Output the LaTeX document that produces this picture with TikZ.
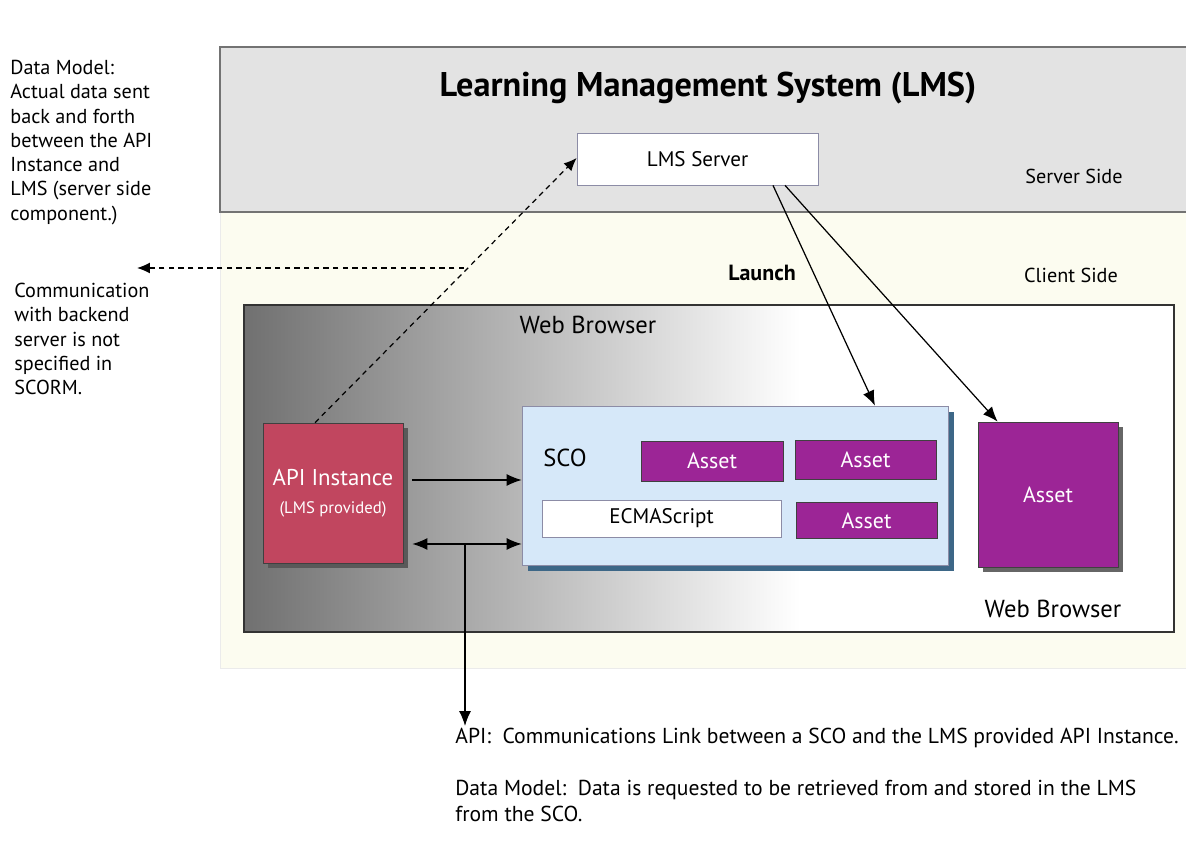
\documentclass[tikz,border=0pt]{standalone}
\usepackage{fontspec}
\setmainfont{PT Sans}
\usetikzlibrary{arrows.meta,shadows}

\definecolor{serverbg}{HTML}{E3E3E3}
\definecolor{clientbg}{HTML}{FCFCF0}
\definecolor{apired}{HTML}{C1465F}
\definecolor{assetpurple}{HTML}{9C2596}
\definecolor{scoblue}{HTML}{D6E8F9}
\definecolor{scoshadow}{HTML}{3D6787}
\definecolor{boxline}{HTML}{8C8CA6}

\tikzset{
    txt/.style={font=\fontsize{11.5}{13.8}\selectfont, inner sep=0pt},
    bottomtxt/.style={font=\fontsize{12.3}{14.6}\selectfont, inner sep=0pt},
    asset/.style={draw=black!75, fill=assetpurple, text=white, inner sep=0pt,
        font=\fontsize{12.5}{15}\selectfont},
    plainbox/.style={draw=boxline, fill=white, inner sep=0pt,
        font=\fontsize{12}{14}\selectfont},
    arr/.style={line width=0.7pt, -{Latex[length=3mm,width=2.4mm]}},
    dbl/.style={line width=0.7pt, {Latex[length=3mm,width=2.4mm]}-{Latex[length=3mm,width=2.4mm]}},
    dsh/.style={line width=0.7pt, dash pattern=on 3pt off 2.5pt, -{Latex[length=2.6mm,width=2.2mm]}}
}

\begin{document}
\begin{tikzpicture}[x=0.02cm,y=-0.02cm]
    \useasboundingbox (0,0) rectangle (1186,857);
    \fill[white] (0,0) rectangle (1186,857);

    % server side and client side bands
    \fill[clientbg] (220,212) rectangle (1186,668);
    \draw[black!8] (220,212) -- (220,668) -- (1186,668);
    \fill[serverbg] (220,47) rectangle (1186,212);
    \draw[black!55, line width=0.7pt] (1186,47) -- (220,47) -- (220,212) -- (1186,212);

    % web browser
    \fill[white] (244,305) rectangle (1174,632);
    \shade[left color=black!56, right color=white] (244,305) rectangle (800,632);
    \draw[black!80, line width=0.8pt] (244,305) rectangle (1174,632);

    \node[font=\fontsize{19.5}{22}\selectfont\bfseries] (title) at (708,88) {Learning Management System (LMS)};
    \node[txt] (serverside) at (1074,176) {Server Side};
    \node[txt] (clientside) at (1071,275) {Client Side};
    \node[txt, font=\fontsize{12.5}{15}\selectfont\bfseries] (launch) at (762,273) {Launch};
    \node[font=\fontsize{14}{16}\selectfont, inner sep=0pt] (browsertop) at (588,325) {Web Browser};
    \node[font=\fontsize{14}{16}\selectfont, inner sep=0pt] (browserbottom) at (1053,609) {Web Browser};

    \node[plainbox, minimum width=4.82cm, minimum height=1.04cm] (server) at (697.5,159) {LMS Server};

    \node[draw=black!75, fill=apired, text=white, inner sep=0pt, align=center,
        minimum width=2.8cm, minimum height=2.8cm,
        drop shadow={shadow xshift=0.1cm, shadow yshift=-0.1cm, fill=black!65, opacity=1},
        font=\fontsize{13}{16}\selectfont] (api) at (333,493)
        {API Instance\\{\fontsize{9.5}{12}\selectfont (LMS provided)}};

    \node[draw=boxline, fill=scoblue, inner sep=0pt,
        minimum width=8.52cm, minimum height=3.18cm,
        drop shadow={shadow xshift=0.12cm, shadow yshift=-0.12cm, fill=scoshadow, opacity=1}] (sco) at (735,485.5) {};
    \node[font=\fontsize{14}{16}\selectfont, inner sep=0pt] (scotext) at (565,458) {SCO};
    \node[asset, minimum width=2.84cm, minimum height=0.8cm] (asseta) at (712,461) {Asset};
    \node[asset, minimum width=2.82cm, minimum height=0.78cm] (assetb) at (865.5,460) {Asset};
    \node[asset, minimum width=2.82cm, minimum height=0.72cm] (assetc) at (866.5,520.5) {Asset};
    \node[plainbox, minimum width=4.78cm, minimum height=0.74cm] (ecma) at (661.5,518.5) {ECMAScript};

    \node[asset, minimum width=2.8cm, minimum height=2.9cm,
        drop shadow={shadow xshift=0.1cm, shadow yshift=-0.1cm, fill=black!60, opacity=1}] (bigasset) at (1048,494.5) {Asset};

    % notes
    \node[txt, anchor=north west, align=left] (dmnote) at (10,60) {Data Model:\\Actual data sent\\back and forth\\between the API\\Instance and\\LMS (server side\\component.)};
    \node[txt, anchor=north west, align=left] (commnote) at (14,283) {Communication\\with backend\\server is not\\specified in\\SCORM.};
    \node[bottomtxt, anchor=base west] (apinote) at (455,743) {API:\ \ Communications Link between a SCO and the LMS provided API Instance.};
    \node[bottomtxt, anchor=base west, align=left] (dmdef) at (455,821) {Data Model:\ \ Data is requested to be retrieved from and stored in the LMS\\from the SCO.};

    % connectors
    \coordinate (join) at (464,268);
    \coordinate (dmend) at (137,268);
    \coordinate (tap) at (465,544);
    \coordinate (down) at (465,726);

    \draw[dsh] ([xshift=-0.36cm]api.north) -- ([yshift=0.02cm]server.west);
    \draw[dsh] (join) -- (dmend);

    \draw[arr] ([xshift=1.51cm]server.south) -- ([xshift=2.8cm]sco.north);
    \draw[arr] ([xshift=1.75cm]server.south) -- ([xshift=0.4cm]bigasset.north west);

    \draw[arr] ([xshift=0.18cm, yshift=0.26cm]api.east) -- ([yshift=0.26cm]api.east -| sco.west);
    \draw[dbl] ([xshift=0.18cm, yshift=-1.02cm]api.east) -- ([yshift=-1.02cm]api.east -| sco.west);
    \draw[arr] (tap) -- (down);
\end{tikzpicture}
\end{document}
